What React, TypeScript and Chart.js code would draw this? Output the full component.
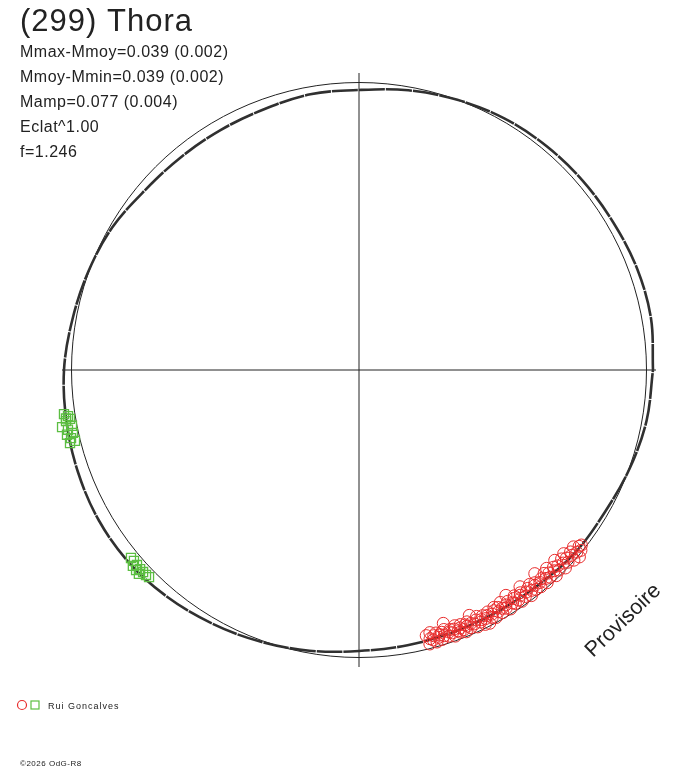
import React, { useEffect, useRef } from "react";
import { Chart, registerables } from "chart.js";

Chart.register(...registerables);

// ---- texts ----
const TITLE = "(299) Thora";
const INFO_LINES = [
  "Mmax-Mmoy=0.039 (0.002)",
  "Mmoy-Mmin=0.039 (0.002)",
  "Mamp=0.077 (0.004)",
  "Eclat^1.00",
  "f=1.246",
];
const OBSERVER = "Rui Goncalves";
const STAMP = "Provisoire";
const COPYRIGHT = "©2026 OdG-R8";

// ---- geometry in plot units ----
const REF_RADIUS = 287.5;
const AXIS_HALF = 297;

// ---- model (Fourier fit) radius vs. phase angle (deg) ----
const modelAngle = [
  0, 10, 20, 30, 40, 50, 60, 70, 80, 90, 100, 110, 120, 130, 140, 150, 160, 170,
  180, 190, 200, 210, 220, 230, 240, 250, 260, 270, 280, 290, 300, 310, 320, 330,
  340, 350, 360,
];
const modelRadius = [
  294, 296.5, 296, 294, 293, 292, 290.5, 287.5, 284, 280, 280, 277.5, 277, 277.5,
  279.5, 285, 288, 291, 295, 297, 299, 300.5, 300, 297, 293, 289, 285, 281, 279.5,
  278.5, 278.5, 280, 283, 284, 288, 292, 294,
];

// ---- session 1 (red circles) ----
const redAngle = [
  284.2, 284.5, 284.8, 285.1, 285.4, 285.7, 286.0, 286.3, 286.6, 286.9, 287.2, 287.5,
  287.8, 288.1, 288.4, 288.7, 289.0, 289.3, 289.6, 289.9, 290.2, 290.5, 290.8, 291.1,
  291.4, 291.7, 292.0, 292.3, 292.6, 292.9, 293.2, 293.5, 293.8, 294.2, 294.5, 294.8,
  295.1, 295.5, 295.8, 296.1, 296.4, 296.7, 297.0, 297.3, 297.6, 298.0, 298.3, 298.6,
  299.0, 299.3, 299.6, 300.0, 300.3, 300.6, 301.0, 301.3, 301.7, 302.0, 302.4, 302.7,
  303.1, 303.4, 303.8, 304.1, 304.5, 304.8, 305.2, 305.6, 305.9, 306.3, 306.6, 307.0,
  307.4, 307.7, 308.1, 308.5, 308.9, 309.2, 309.6, 310.0, 310.4, 310.8, 311.1, 311.5,
  311.9, 312.3, 312.7, 313.1, 313.4, 313.8, 314.2, 314.6, 315.0, 315.4, 315.8, 316.2,
  316.6, 317.0, 317.4, 317.8, 318.1, 318.5, 318.9, 319.3, 319.7, 320.1, 320.5, 320.9,
  321.3, 321.8,
];
const redRadius = [
  274, 283, 278, 272, 280, 276, 283, 274, 279, 277, 282, 275,
  279, 273, 267, 281, 277, 275, 279, 283, 276, 273, 279, 281,
  277, 274, 280, 283, 276, 278, 274, 281, 277, 269, 279, 283,
  276, 273, 280, 278, 284, 275, 279, 285, 277, 274, 281, 278,
  283, 276, 273, 279, 275, 282, 278, 272, 280, 277, 283, 275,
  269, 279, 281, 276, 274, 280, 283, 277, 275, 281, 270, 278,
  284, 276, 280, 274, 282, 278, 276, 283, 279, 269, 277, 284,
  280, 275, 282, 278, 273, 285, 280, 277, 283, 279, 273, 286,
  281, 277, 284, 280, 275, 287, 282, 279, 289, 284, 278, 286,
  282, 283,
];

// ---- session 2 (green squares) ----
const greenAngle = [
  188.5, 189.0, 189.4, 189.6, 189.9, 190.9, 191.0, 191.6, 192.4, 192.5, 193.3, 194.0,
  194.2, 219.5, 220.3, 220.9, 221.3, 221.9, 222.3, 222.8, 223.1, 223.9, 224.6,
];
const greenRadius = [
  298.3, 294.6, 297, 293.1, 297.4, 302.4, 292.4, 297.1, 292.9, 299.1, 295.9, 292.7,
  298.1, 295.5, 295.1, 299.2, 295.5, 299.5, 295.9, 300, 295.7, 295.6, 294.9,
];

const RED = "rgb(232,44,44)";
const GREEN = "rgb(92,190,66)";
const INK = "#222222";

function toXY(angles: number[], radii: number[]) {
  return angles.map((deg, i) => ({
    x: radii[i] * Math.cos((deg * Math.PI) / 180),
    y: radii[i] * Math.sin((deg * Math.PI) / 180),
  }));
}

const framePlugin = {
  id: "polarFrame",
  beforeDatasetsDraw(chart: any) {
    const { ctx, scales } = chart;
    const xs = scales.x;
    const ys = scales.y;
    const cx = xs.getPixelForValue(0);
    const cy = ys.getPixelForValue(0);
    const rPx = xs.getPixelForValue(REF_RADIUS) - cx;
    ctx.save();
    ctx.strokeStyle = INK;
    ctx.lineWidth = 1;
    ctx.setLineDash([]);
    ctx.beginPath();
    ctx.arc(cx, cy, rPx, 0, Math.PI * 2);
    ctx.stroke();
    ctx.beginPath();
    ctx.moveTo(xs.getPixelForValue(-AXIS_HALF), cy);
    ctx.lineTo(xs.getPixelForValue(AXIS_HALF), cy);
    ctx.moveTo(cx, ys.getPixelForValue(AXIS_HALF));
    ctx.lineTo(cx, ys.getPixelForValue(-AXIS_HALF));
    ctx.stroke();
    ctx.restore();
  },
  afterDraw(chart: any) {
    const ctx = chart.ctx as CanvasRenderingContext2D & { letterSpacing?: string };
    ctx.save();
    ctx.setLineDash([]);
    ctx.fillStyle = INK;
    ctx.textBaseline = "alphabetic";
    ctx.textAlign = "left";

    ctx.font = "31px 'Liberation Sans', Arial, sans-serif";
    ctx.letterSpacing = "1px";
    ctx.fillText(TITLE, 20, 31);

    ctx.font = "16px 'Liberation Sans', Arial, sans-serif";
    ctx.letterSpacing = "0.5px";
    INFO_LINES.forEach((t, i) => ctx.fillText(t, 20, 57 + i * 25));

    // stamp
    ctx.save();
    ctx.translate(593, 658);
    ctx.rotate((-44 * Math.PI) / 180);
    ctx.font = "21.5px 'Liberation Sans', Arial, sans-serif";
    ctx.letterSpacing = "0px";
    ctx.fillText(STAMP, 0, 0);
    ctx.restore();

    // legend
    ctx.lineWidth = 1.2;
    ctx.strokeStyle = RED;
    ctx.beginPath();
    ctx.arc(22, 705, 4.5, 0, Math.PI * 2);
    ctx.stroke();
    ctx.strokeStyle = GREEN;
    ctx.strokeRect(31, 701, 8, 8);
    ctx.font = "9px 'Liberation Sans', Arial, sans-serif";
    ctx.letterSpacing = "1px";
    ctx.fillText(OBSERVER, 48, 709);

    ctx.font = "8px 'Liberation Sans', Arial, sans-serif";
    ctx.letterSpacing = "0.5px";
    ctx.fillText(COPYRIGHT, 20, 766);
    ctx.restore();
  },
};

export default function App() {
  const ref = useRef<HTMLCanvasElement | null>(null);

  useEffect(() => {
    if (!ref.current) return;
    const chart = new Chart(ref.current, {
      type: "scatter",
      data: {
        datasets: [
          {
            label: "session 2",
            data: toXY(greenAngle, greenRadius),
            pointStyle: "rect",
            pointRadius: 6.4,
            borderColor: GREEN,
            pointBorderColor: GREEN,
            backgroundColor: "rgba(0,0,0,0)",
            pointBackgroundColor: "rgba(0,0,0,0)",
            borderWidth: 1.3,
            pointBorderWidth: 1.3,
            borderDash: [],
            clip: false,
            order: 1,
          } as any,
          {
            label: "session 1",
            data: toXY(redAngle, redRadius),
            pointStyle: "circle",
            pointRadius: 6,
            borderColor: RED,
            pointBorderColor: RED,
            backgroundColor: "rgba(0,0,0,0)",
            pointBackgroundColor: "rgba(0,0,0,0)",
            borderWidth: 1,
            pointBorderWidth: 1,
            clip: false,
            order: 2,
          } as any,
          {
            label: "model",
            data: toXY(modelAngle, modelRadius),
            showLine: true,
            borderColor: "#303030",
            borderWidth: 2.6,
            borderDash: [26, 1],
            pointRadius: 0,
            tension: 0.35,
            clip: false,
            order: 3,
          } as any,
        ],
      },
      options: {
        animation: false,
        responsive: false,
        devicePixelRatio: 1,
        layout: { padding: { left: 59, right: 29, top: 70, bottom: 98 } },
        scales: {
          x: { type: "linear", min: -300, max: 300, display: false },
          y: { type: "linear", min: -300, max: 300, display: false },
        },
        plugins: {
          legend: { display: false },
          tooltip: { enabled: false },
        },
        events: [],
      },
      plugins: [framePlugin],
    });
    return () => chart.destroy();
  }, []);

  return (
    <div style={{ position: "fixed", left: 0, top: 0, width: 688, height: 768, background: "#fff" }}>
      <canvas ref={ref} width={688} height={768} />
    </div>
  );
}
